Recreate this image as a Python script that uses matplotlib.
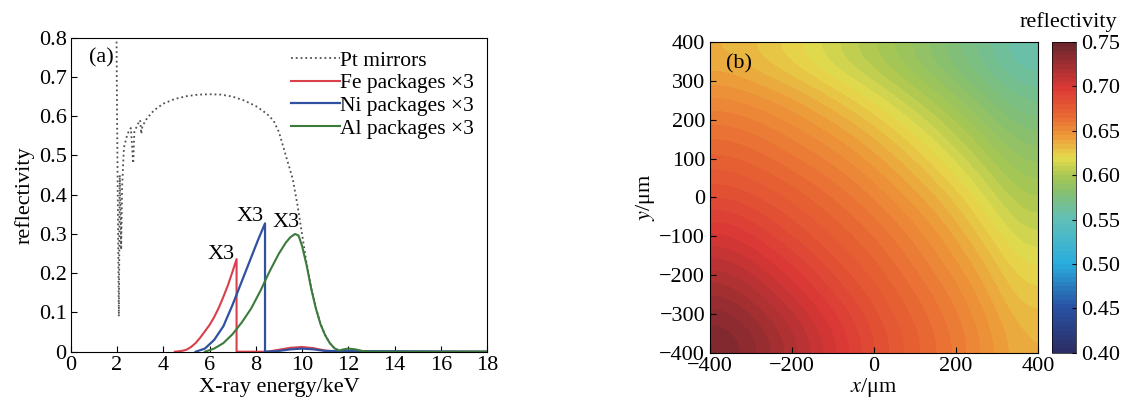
import numpy as np
import matplotlib
matplotlib.use("Agg")
import matplotlib.pyplot as plt
from matplotlib.colors import LinearSegmentedColormap

plt.rcParams['font.family'] = ['Liberation Serif', 'DejaVu Serif']
plt.rcParams['mathtext.fontset'] = 'stix'
plt.rcParams['font.size'] = 16

# (a) reflectivity spectra
pt_x = [1.98, 2.0, 2.04, 2.08, 2.12, 2.18, 2.22, 2.3, 2.45, 2.6, 2.7, 2.75, 2.9, 3.0,
        3.05, 3.1, 3.3, 3.6, 4.0, 4.5, 5.0, 5.5, 6.0, 6.5, 7.0, 7.5, 8.0, 8.3, 8.6, 8.8,
        9.0, 9.3, 9.6, 9.8, 10.0, 10.2, 10.4, 10.6, 10.8, 11.0, 11.2, 11.4, 11.6, 12.0]
pt_y = [0.79, 0.62, 0.35, 0.09, 0.45, 0.26, 0.42, 0.52, 0.555, 0.57, 0.48, 0.56, 0.58, 0.59,
        0.555, 0.575, 0.595, 0.615, 0.632, 0.644, 0.651, 0.655, 0.656, 0.655, 0.65, 0.64,
        0.626, 0.614, 0.6, 0.585, 0.56, 0.5, 0.44, 0.375, 0.3, 0.225, 0.162, 0.112, 0.071,
        0.043, 0.022, 0.009, 0.003, 0.0]

fe_x = [4.5, 4.8, 5.0, 5.2, 5.4, 5.6, 5.8, 6.0, 6.2, 6.4, 6.6, 6.8, 7.0, 7.17, 7.17,
        8.5, 9.0, 9.5, 10.0, 10.5, 11.0, 11.5, 18]
fe_y = [0.0, 0.002, 0.005, 0.012, 0.022, 0.036, 0.052, 0.068, 0.088, 0.112, 0.14, 0.17,
        0.205, 0.236, 0.0, 0.0, 0.005, 0.01, 0.012, 0.009, 0.003, 0.0, 0.0]

ni_x = [5.4, 5.8, 6.2, 6.6, 7.0, 7.4, 7.8, 8.1, 8.4, 8.4, 9.0, 9.5, 10.0, 10.5, 11.0, 18]
ni_y = [0.0, 0.008, 0.03, 0.065, 0.12, 0.18, 0.24, 0.285, 0.327, 0.0, 0.002, 0.006, 0.008,
        0.006, 0.002, 0.0]

al_x = [5.8, 6.2, 6.6, 7.0, 7.4, 7.8, 8.2, 8.6, 9.0, 9.3, 9.5, 9.7, 9.85, 10.0, 10.2,
        10.4, 10.6, 10.8, 11.0, 11.2, 11.4, 11.6, 11.8, 12.0, 12.3, 12.6, 13.0, 18]
al_y = [0.0, 0.008, 0.022, 0.045, 0.075, 0.11, 0.155, 0.205, 0.25, 0.278, 0.292, 0.3,
        0.296, 0.27, 0.22, 0.16, 0.11, 0.07, 0.042, 0.022, 0.009, 0.003, 0.006, 0.008,
        0.006, 0.002, 0.0, 0.0]

peak_labels = [(6.5, 0.248, 'X3'), (7.75, 0.345, 'X3'), (9.3, 0.328, 'X3')]

# (b) reflectivity map over the mirror surface
grid_x = [-400, -300, -200, -100, 0, 100, 200, 300, 400]
grid_y = [-400, -300, -200, -100, 0, 100, 200, 300, 400]
refl_map = [
    [0.740, 0.728, 0.714, 0.700, 0.685, 0.673, 0.662, 0.649, 0.635],
    [0.728, 0.716, 0.704, 0.691, 0.679, 0.668, 0.657, 0.644, 0.628],
    [0.714, 0.704, 0.693, 0.681, 0.672, 0.661, 0.650, 0.637, 0.620],
    [0.700, 0.691, 0.681, 0.673, 0.664, 0.654, 0.642, 0.627, 0.610],
    [0.685, 0.679, 0.672, 0.664, 0.655, 0.644, 0.632, 0.616, 0.600],
    [0.673, 0.668, 0.661, 0.654, 0.644, 0.633, 0.619, 0.604, 0.590],
    [0.662, 0.657, 0.650, 0.642, 0.632, 0.619, 0.606, 0.592, 0.579],
    [0.649, 0.644, 0.637, 0.627, 0.616, 0.604, 0.592, 0.580, 0.567],
    [0.635, 0.628, 0.620, 0.610, 0.600, 0.590, 0.579, 0.567, 0.555],
]
cbar_ticks = [0.40, 0.45, 0.50, 0.55, 0.60, 0.65, 0.70, 0.75]

# muted jet-like colours
cmap = LinearSegmentedColormap.from_list('mutedjet', [
    (0.000, (0.17, 0.18, 0.40)),
    (0.143, (0.16, 0.32, 0.64)),
    (0.286, (0.16, 0.68, 0.87)),
    (0.429, (0.38, 0.75, 0.72)),
    (0.514, (0.52, 0.75, 0.45)),
    (0.571, (0.66, 0.78, 0.32)),
    (0.629, (0.90, 0.86, 0.30)),
    (0.700, (0.93, 0.60, 0.22)),
    (0.771, (0.91, 0.40, 0.20)),
    (0.857, (0.86, 0.22, 0.21)),
    (1.000, (0.42, 0.15, 0.18)),
], N=70)

fig = plt.figure(figsize=(11.43, 4.01), dpi=100)
ax1 = fig.add_axes([0.0619, 0.1229, 0.3642, 0.7830])
ax2 = fig.add_axes([0.6212, 0.1200, 0.2870, 0.7752])
cax = fig.add_axes([0.9204, 0.1200, 0.0210, 0.7752])

ax1.plot(pt_x, pt_y, color='#505050', linestyle=':', lw=1.3, label='Pt mirrors')
ax1.plot(fe_x, fe_y, color='#d9404a', lw=1.5, label='Fe packages \u00d73')
ax1.plot(ni_x, ni_y, color='#3050a0', lw=1.6, label='Ni packages \u00d73')
ax1.plot(al_x, al_y, color='#3c7a3c', lw=1.5, label='Al packages \u00d73')
for px, py, t in peak_labels:
    ax1.text(px, py, t, ha='center', va='center', fontsize=16)
ax1.set_xlim(0, 18)
ax1.set_ylim(0, 0.8)
ax1.set_xticks(range(0, 19, 2))
ax1.set_yticks(np.arange(0, 0.81, 0.1))
ax1.set_yticklabels(['0', '0.1', '0.2', '0.3', '0.4', '0.5', '0.6', '0.7', '0.8'])
ax1.tick_params(direction='in', length=4, pad=3)
ax1.set_xlabel('X-ray energy/keV', labelpad=2)
ax1.set_ylabel('reflectivity', labelpad=3)
ax1.text(0.045, 0.965, '(a)', transform=ax1.transAxes, ha='left', va='top')
ax1.legend(loc='upper right', bbox_to_anchor=(1.0, 1.0), frameon=False, fontsize=15.5,
           handlelength=2.3, handletextpad=0.0, labelspacing=0.12, borderaxespad=0.2)

im = ax2.imshow(refl_map, origin='lower', extent=[-400, 400, -400, 400],
                cmap=cmap, vmin=0.40, vmax=0.75, interpolation='bicubic', aspect='auto')
ax2.set_xticks([-400, -200, 0, 200, 400])
ax2.set_yticks(grid_y)
ax2.tick_params(direction='in', length=4)
ax2.tick_params(axis='x', pad=3)
ax2.set_xlabel('$x$/\u03bcm', labelpad=0)
ax2.set_ylabel('$y$/\u03bcm', labelpad=2)
ax2.text(0.05, 0.96, '(b)', transform=ax2.transAxes, ha='left', va='top')

cb = fig.colorbar(im, cax=cax, ticks=cbar_ticks)
cb.ax.set_yticklabels(['%.2f' % t for t in cbar_ticks])
cb.ax.tick_params(direction='in', length=3, labelsize=16)
cb.outline.set_linewidth(0.5)
cax.set_title('reflectivity', fontsize=16, loc='center', x=0.7, pad=11)

fig.savefig('out.png', dpi=100)
